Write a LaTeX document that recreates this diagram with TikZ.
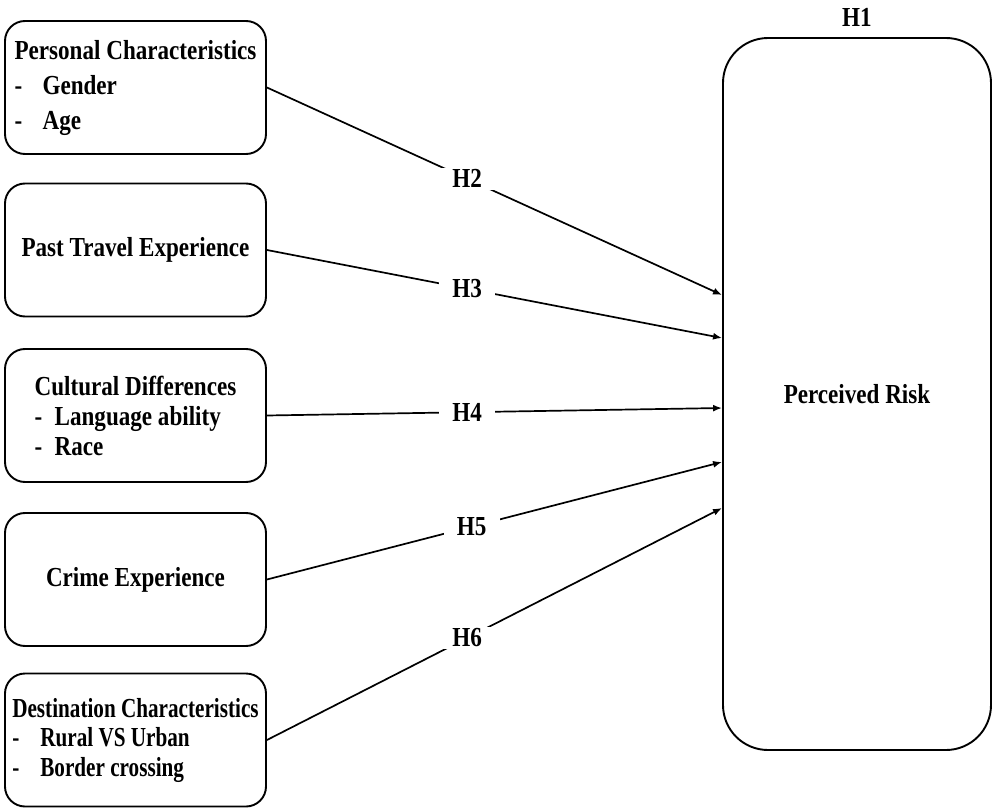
\documentclass[tikz,border=0pt]{standalone}
\usepackage{fontspec}
\setmainfont{Liberation Serif}[FakeStretch=0.84]
\newfontfamily\narrowfont{Liberation Serif}[FakeStretch=0.77]
\usetikzlibrary{arrows.meta}
\usetikzlibrary{positioning, calc}
\newcommand{\itm}[2][28pt]{\makebox[#1][l]{-}#2}

\begin{document}
\begin{tikzpicture}[x=1pt,y=-1pt,>={Latex[length=9pt,width=7pt]},
    factor/.style={draw,line width=1.9pt,rounded corners=20pt,minimum width=261pt,
      minimum height=133pt,align=left,font=\bfseries\fontsize{27.5}{35}\selectfont},
    hyp/.style={fill=white,inner xsep=13pt,inner ysep=2pt,font=\bfseries\fontsize{27.5}{33}\selectfont},
    link/.style={->,line width=1.7pt}]
  \useasboundingbox (0,0) rectangle (997,808);

  % FACTORS
  \node[factor] (pers) at (135.5,87.5) {Personal Characteristics\\ \itm{Gender}\\ \itm{Age}};
  \node[factor] (past) at (135.5,250) {Past Travel Experience};
  \node[factor,font=\bfseries\fontsize{27.5}{30}\selectfont] (cult) at (135.5,415.5)
    {Cultural Differences\\ \itm[20pt]{Language ability}\\ \itm[20pt]{Race}};
  \node[factor] (crime) at (135.5,579.5) {Crime Experience};
  \node[factor,font=\narrowfont\bfseries\fontsize{27.5}{29.5}\selectfont] (dest) at (135.5,740)
    {Destination Characteristics\\ \itm{Rural VS Urban}\\ \itm{Border crossing}};

  % OUTCOME
  \node[draw,line width=1.9pt,rounded corners=45pt,minimum width=268pt,minimum height=712pt,
    font=\bfseries\fontsize{27.5}{33}\selectfont] (risk) at (857,394) {\raisebox{-11pt}{Perceived Risk}};
  \node[hyp,fill=none,above=8pt of risk] (h1) {H1};

  \coordinate (t2) at ([yshift=99pt]risk.west);
  \coordinate (t3) at ([yshift=56pt]risk.west);
  \coordinate (t4) at ([yshift=-14pt]risk.west);
  \coordinate (t5) at ([yshift=-68pt]risk.west);
  \coordinate (t6) at ([yshift=-114pt]risk.west);

  % HYPOTHESES
  \draw[link] (pers.east) -- (t2) node[hyp,pos=0.44] (h2) {H2};
  \draw[link] (past.east) -- (t3) node[hyp,pos=0.44] (h3) {H3};
  \draw[link] (cult.east) -- (t4) node[hyp,pos=0.44] (h4) {H4};
  \draw[link] (crime.east) -- (t5) node[hyp,pos=0.45] (h5) {H5};
  \draw[link] (dest.east) -- (t6) node[hyp,pos=0.44] (h6) {H6};
\end{tikzpicture}
\end{document}
